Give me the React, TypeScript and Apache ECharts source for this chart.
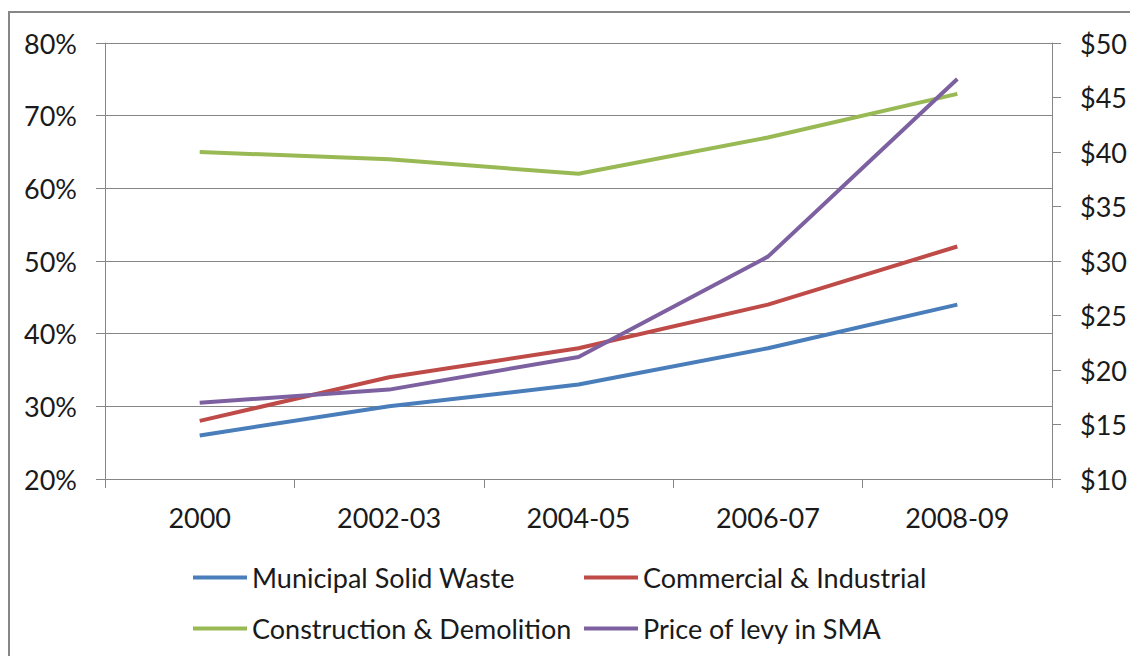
import React, { useEffect, useRef } from "react";
import * as echarts from "echarts";

const categories = ["2000", "2002-03", "2004-05", "2006-07", "2008-09"];
const municipalSolidWaste = [26, 30, 33, 38, 44];
const commercialIndustrial = [28, 34, 38, 44, 52];
const constructionDemolition = [65, 64, 62, 67, 73];
const priceOfLevy = [17.0, 18.2, 21.2, 30.4, 46.7];

const seriesNames = [
  "Municipal Solid Waste",
  "Commercial & Industrial",
  "Construction & Demolition",
  "Price of levy in SMA",
];
const colors = ["#4a7ebb", "#be4b48", "#98b954", "#7d60a0"];

const FONT = "Lato";
const FS = 27;
const TEXT = "#1a1a1a";
const GRAY = "#868686";

export default function App() {
  const ref = useRef<HTMLDivElement>(null);
  useEffect(() => {
    document.body.style.margin = "0";
    const chart = echarts.init(ref.current!, undefined, { renderer: "svg" });
    const legendPos = [
      { left: 193, top: 564 },
      { left: 584, top: 564 },
      { left: 193, top: 615 },
      { left: 584, top: 615 },
    ];
    const dataSets = [municipalSolidWaste, commercialIndustrial, constructionDemolition, priceOfLevy];
    chart.setOption({
      animation: false,
      backgroundColor: "#ffffff",
      textStyle: { fontFamily: FONT },
      graphic: [
        {
          type: "rect",
          shape: { x: 9, y: 12, width: 1140, height: 700 },
          style: { fill: "none", stroke: "#878787", lineWidth: 2 },
          silent: true,
        },
      ],
      legend: legendPos.map((p, i) => ({
        left: p.left,
        top: p.top,
        data: [seriesNames[i]],
        icon: "rect",
        itemWidth: 54,
        itemHeight: 4,
        itemGap: 0,
        textStyle: { fontFamily: FONT, fontSize: FS, color: TEXT, padding: [0, 0, 0, 0] },
        padding: 0,
      })),
      grid: { left: 105, right: 76, top: 43, bottom: 177, containLabel: false },
      xAxis: {
        type: "category",
        data: categories,
        boundaryGap: true,
        axisLine: { show: true, lineStyle: { color: GRAY, width: 1 } },
        axisTick: { show: true, length: 9, lineStyle: { color: GRAY } },
        axisLabel: { fontFamily: FONT, fontSize: FS, color: TEXT, margin: 25 },
      },
      yAxis: [
        {
          type: "value",
          min: 20,
          max: 80,
          interval: 10,
          position: "left",
          axisLine: { show: true, lineStyle: { color: GRAY, width: 1 } },
          axisTick: { show: true, length: 9, lineStyle: { color: GRAY } },
          splitLine: { show: true, lineStyle: { color: GRAY, width: 1 } },
          axisLabel: { formatter: "{value}%", fontFamily: FONT, fontSize: FS, color: TEXT, margin: 28 },
        },
        {
          type: "value",
          min: 10,
          max: 50,
          interval: 5,
          position: "right",
          axisLine: { show: true, lineStyle: { color: GRAY, width: 1 } },
          axisTick: { show: true, length: 9, lineStyle: { color: GRAY } },
          splitLine: { show: false },
          axisLabel: { formatter: "${value}", fontFamily: FONT, fontSize: FS, color: TEXT, margin: 28 },
        },
      ],
      series: dataSets.map((d, i) => ({
        name: seriesNames[i],
        type: "line",
        data: d,
        yAxisIndex: i === 3 ? 1 : 0,
        showSymbol: false,
        symbol: "none",
        lineStyle: { color: colors[i], width: 4 },
        itemStyle: { color: colors[i] },
        z: 2 + i,
      })),
    });
    return () => chart.dispose();
  }, []);
  return <div ref={ref} style={{ width: 1130, height: 656 }} />;
}
